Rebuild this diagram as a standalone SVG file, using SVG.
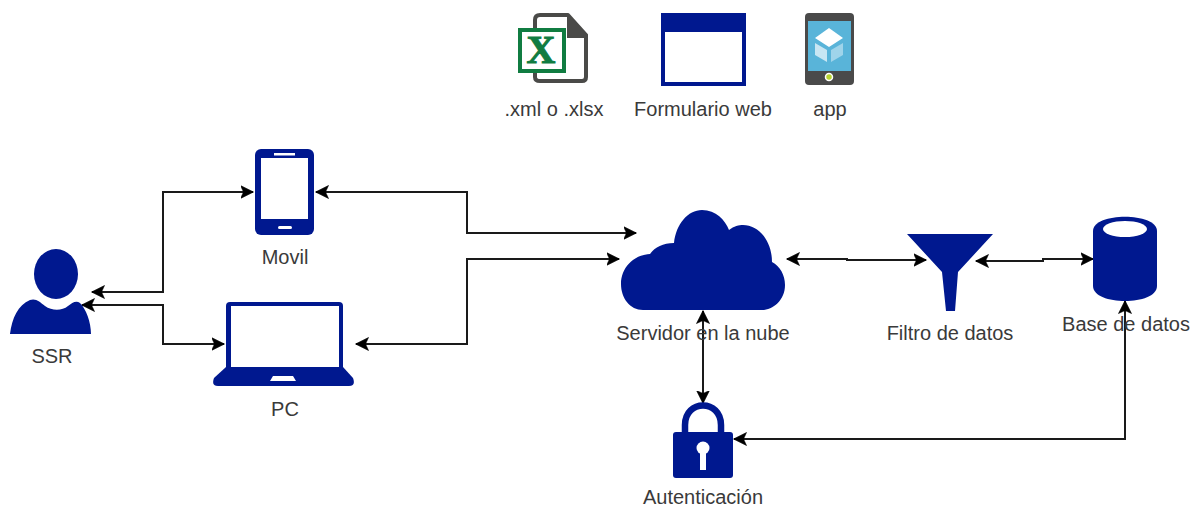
<svg xmlns="http://www.w3.org/2000/svg" width="1192" height="508" viewBox="0 0 1192 508">
<style>
.n{fill:#00188f}
.w{fill:#fff}
.c{fill:none;stroke:#1a1a1a;stroke-width:2}
.t{font-family:"Liberation Sans",Arial,sans-serif;font-size:20px;fill:#3a3a3a;text-anchor:middle}
</style>
<defs>
<marker id="a" markerUnits="userSpaceOnUse" markerWidth="14" markerHeight="14" refX="12.5" refY="6.5" orient="auto-start-reverse" viewBox="0 0 14 13">
<path d="M13 6.5L0 0L3 6.5L0 13Z" fill="#000" stroke="#000" stroke-width=".6"/>
</marker>
</defs>
<rect width="1192" height="508" fill="#fff"/>
<g id="connectors">
<path class="c" marker-start="url(#a)" marker-end="url(#a)" d="M92 292H163V192H253"/>
<path class="c" marker-start="url(#a)" marker-end="url(#a)" d="M82 305H163V344H224"/>
<path class="c" marker-start="url(#a)" marker-end="url(#a)" d="M316 192H467V233H636"/>
<path class="c" marker-start="url(#a)" marker-end="url(#a)" d="M356 344H467V259H619"/>
<path class="c" marker-start="url(#a)" marker-end="url(#a)" d="M787 259H847V260H926"/>
<path class="c" marker-start="url(#a)" marker-end="url(#a)" d="M976 261H1043V259H1093"/>
<path class="c" marker-start="url(#a)" marker-end="url(#a)" d="M703 311V403"/>
<path class="c" marker-start="url(#a)" marker-end="url(#a)" d="M734 439H1125V301"/>
</g>
<g id="excel">
<path d="M535 77V20Q535 15 540 15H568L586 35V77Q586 81 582 81H540Q535 81 535 77Z" fill="#fff" stroke="#4a4a48" stroke-width="4" stroke-linejoin="round"/>
<path d="M567 14L588 35V38H567Z" fill="#4a4a48"/>
<rect x="520" y="30" width="44" height="41" fill="#fff" stroke="#107c41" stroke-width="4"/>
<text x="541" y="63" font-family="Liberation Serif,serif" font-weight="bold" font-size="40" fill="#107c41" stroke="#107c41" stroke-width="1" text-anchor="middle">X</text>
<text class="t" x="554" y="116">.xml o .xlsx</text>
</g>
<g id="formulario">
<rect x="661" y="13" width="85" height="73" class="n"/>
<rect x="665" y="32" width="77" height="50" class="w"/>
<text class="t" x="703" y="116">Formulario web</text>
</g>
<g id="app">
<rect x="805" y="13" width="49" height="72" rx="4" fill="#4a4a4a"/>
<rect x="808" y="21" width="43" height="50" fill="#59b4d9"/>
<path d="M829 28L843 38L829 47L815 38Z" fill="#fff"/>
<path d="M815 43L827 50V62L815 55Z" fill="#c8e6f3"/>
<path d="M831 50L843 43V55L831 62Z" fill="#9fd4ea"/>
<circle cx="829" cy="77" r="3.500" fill="#b8d432" stroke="#fff" stroke-width="1.500"/>
<text class="t" x="830" y="116">app</text>
</g>
<g id="movil">
<rect x="255" y="149" width="59" height="86" rx="6" class="n"/>
<rect x="261" y="158" width="47" height="61" class="w"/>
<rect x="274" y="153" width="21" height="2.500" class="w"/>
<rect x="278" y="226" width="14" height="3" rx="1.500" class="w"/>
<text class="t" x="285" y="264">Movil</text>
</g>
<g id="ssr">
<ellipse cx="56" cy="274" rx="22" ry="25" class="n"/>
<path class="n" d="M10 334C12 318 18 305 30 300C36 298 40 302 45 306C52 311 62 311 68 306C72 303 76 300 80 303C86 309 91 322 91 334Z"/>
<text class="t" x="52" y="363">SSR</text>
</g>
<g id="pc">
<rect x="226" y="302" width="117" height="70" rx="4" class="n"/>
<rect x="231" y="306" width="108" height="61" class="w"/>
<path class="n" d="M226 367H343L353 378Q356 386 349 386H218Q211 386 214 378Z"/>
<path class="w" d="M273 376H293L296 381H270Z"/>
<text class="t" x="285" y="416">PC</text>
</g>
<g id="servidor">
<path class="n" d="M643 310C630 310 621 298 621 284C621 268 633 255 650 254C655 247 663 243 674 243C676 224 688 210 702 210C716 210 725 220 729 230C734 226 739 225 743 225C758 225 772 240 772 262C780 266 785 275 785 285C785 300 773 310 762 310Z"/>
<text class="t" x="703" y="340">Servidor en la nube</text>
</g>
<g id="filtro">
<path class="n" d="M907 234H993L958 272L955 311H946L942 272Z"/>
<text class="t" x="950" y="340">Filtro de datos</text>
</g>
<g id="base">
<path class="n" d="M1093 231C1093 212 1157 212 1157 231V286C1157 306 1093 306 1093 286Z"/>
<ellipse cx="1125" cy="229" rx="22" ry="8" class="w"/>
<text class="t" x="1126" y="331">Base de datos</text>
</g>
<g id="autenticacion">
<path d="M685 434V425C685 399 721 399 721 425V434" fill="none" stroke="#00188f" stroke-width="6.500"/>
<rect x="673" y="432" width="60" height="46" rx="3" class="n"/>
<circle cx="703" cy="448" r="6.500" class="w"/>
<rect x="700" y="450" width="6" height="20" class="w"/>
<text class="t" x="703" y="503.500">Autenticación</text>
</g>
</svg>
